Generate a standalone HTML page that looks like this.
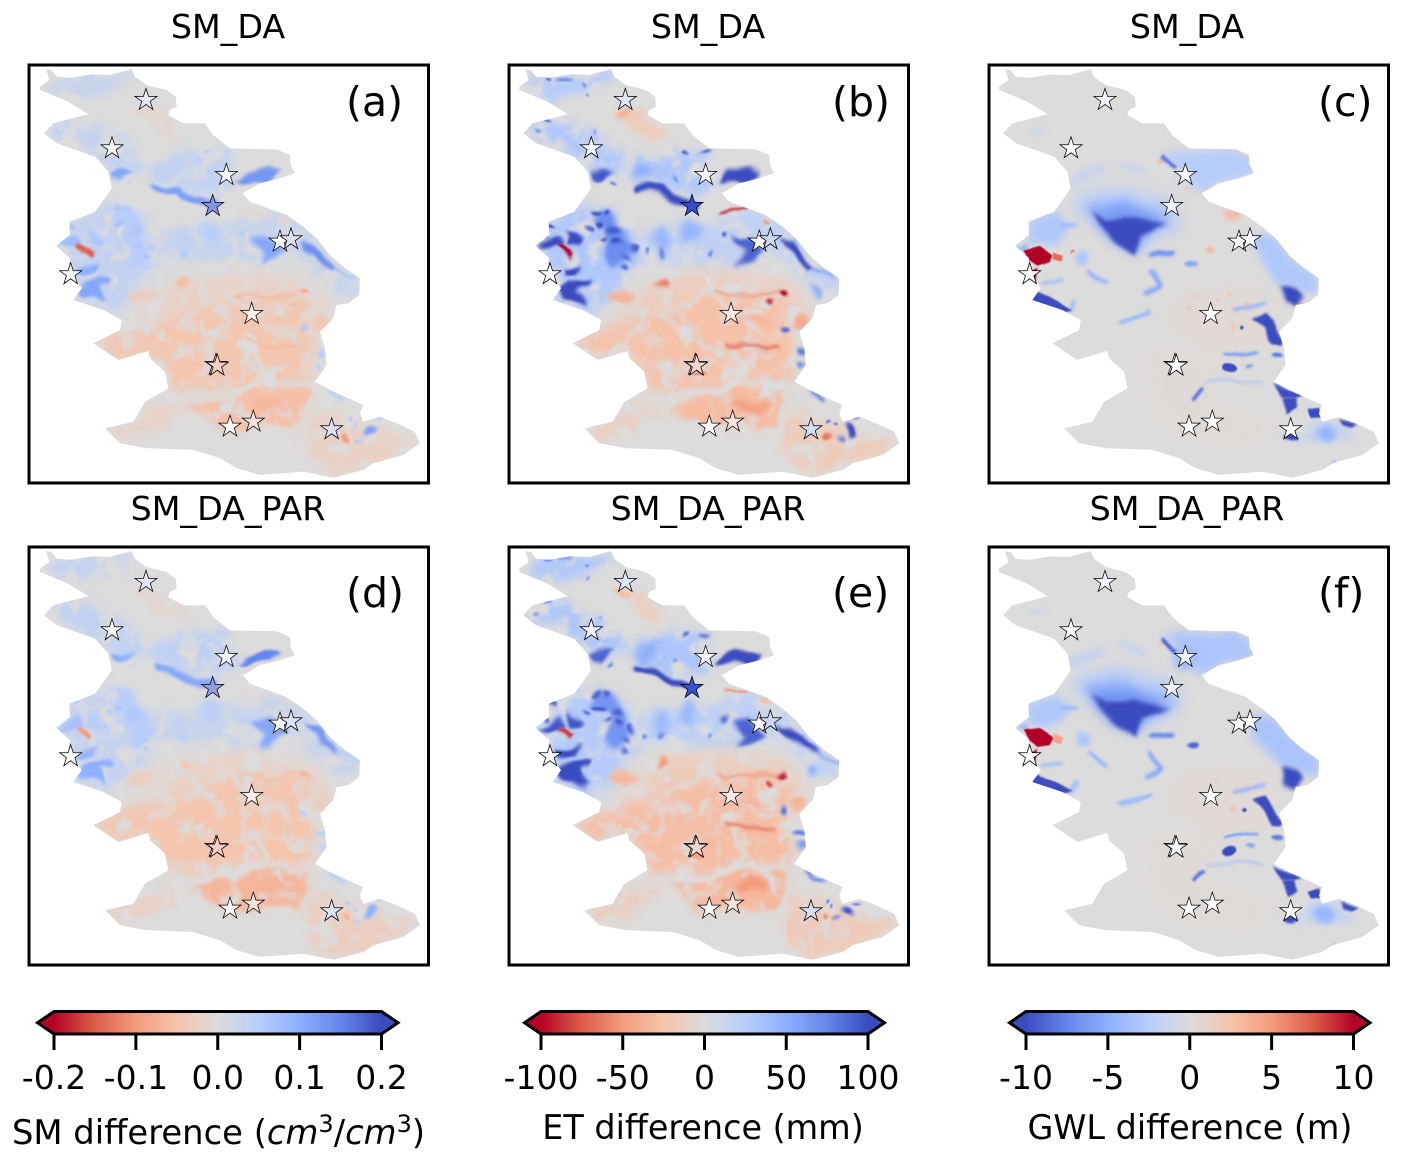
<!DOCTYPE html>
<html lang="en">
<head>
<meta charset="utf-8">
<title>Soil moisture, evapotranspiration and groundwater level differences</title>
<style>
html,body{margin:0;padding:0;background:#fff;width:1404px;height:1163px;overflow:hidden}
svg{display:block}
text{font-family:"DejaVu Sans","Liberation Sans",sans-serif;fill:#000}
.title{font-size:33.3px;text-anchor:middle}
.tag{font-size:41px}
.tick{font-size:33px;text-anchor:middle}
.cblabel{font-size:33.4px;text-anchor:middle}
</style>
</head>
<body>
<svg id="figure" xmlns="http://www.w3.org/2000/svg" width="1404" height="1163" viewBox="0 0 1404 1163">
  <defs id="defs"></defs>
  <rect width="1404" height="1163" fill="#fff"/>
  <g id="maps"></g>
  <g id="bars"></g>

  <text class="title" x="228" y="38">SM_DA</text>
  <text class="title" x="708" y="38">SM_DA</text>
  <text class="title" x="1187" y="38">SM_DA</text>
  <text class="title" x="228" y="520">SM_DA_PAR</text>
  <text class="title" x="708" y="520">SM_DA_PAR</text>
  <text class="title" x="1187" y="520">SM_DA_PAR</text>

  <text class="tag" x="346" y="116">(a)</text>
  <text class="tag" x="832" y="116">(b)</text>
  <text class="tag" x="1318" y="116">(c)</text>
  <text class="tag" x="346" y="607">(d)</text>
  <text class="tag" x="832" y="607">(e)</text>
  <text class="tag" x="1318" y="607">(f)</text>

  <text class="cblabel" x="218.5" y="1144" style="font-size:33.8px">SM difference (<tspan font-style="italic">cm</tspan><tspan style="font-size:24px" dy="-12">3</tspan><tspan dy="12">/</tspan><tspan font-style="italic">cm</tspan><tspan style="font-size:24px" dy="-12">3</tspan><tspan dy="12">)</tspan></text>
  <text class="cblabel" x="703" y="1139">ET difference (mm)</text>
  <text class="cblabel" x="1190" y="1139">GWL difference (m)</text>
</svg>

<script>
/* ---------- colour bar data ---------- */
const smTickValues = [-0.2, -0.1, 0, 0.1, 0.2];
const smTickLabels = ["-0.2", "-0.1", "0.0", "0.1", "0.2"];
const etTickValues = [-100, -50, 0, 50, 100];
const etTickLabels = ["-100", "-50", "0", "50", "100"];
const gwlTickValues = [-10, -5, 0, 5, 10];
const gwlTickLabels = ["-10", "-5", "0", "5", "10"];

/* ---------- station markers: map coordinates ---------- */
const stationEast = [378, 276, 619, 578, 780, 813, 152, 695, 588, 592, 630, 700, 935];
const stationNorth = [135, 280, 360, 453, 560, 553, 658, 777, 930, 932, 1115, 1100, 1123];

/* ---------- station values per panel ---------- */
const stationSmDa = [0.025, 0.006, 0.01, 0.11, 0.004, 0.03, 0, -0.02, -0.05, -0.05, -0.004, -0.03, 0.03];
const stationEtDa = [14, 4, 5, 92, 2, 22, 0, -12, -22, -22, -2, -15, 18];
const stationGwlDa = [-0.5, 0, 0, -0.7, 0, 0, 0, 0, 0, 0, 0, 0, 0];
const stationSmPar = [0.025, 0.006, 0.012, 0.1, 0.004, 0.03, 0, -0.02, -0.05, -0.05, -0.004, -0.03, 0.03];
const stationEtPar = [14, 4, 5, 90, 2, 22, 0, -12, -22, -22, -2, -15, 18];
const stationGwlPar = [-0.5, 0, -0.7, -0.7, 0, 0, 0, 0, 0, 0, 0, 0, 0];

/* ---------- basin outline in map coordinates ---------- */
const basinOutline = "78,42 95,45 110,65 150,68 215,58 270,60 335,42 345,65 380,90 440,105 468,125 470,155 450,165 445,180 490,205 555,205 580,240 630,280 770,283 810,300 812,330 825,355 780,370 720,385 668,415 690,440 750,462 800,480 850,515 890,550 930,600 970,635 1020,670 1018,720 985,745 950,750 940,790 900,830 915,880 920,930 885,980 930,1005 1030,1050 1020,1075 1030,1100 1080,1085 1130,1105 1185,1130 1200,1165 1150,1200 1060,1225 1030,1245 940,1268 850,1250 720,1260 650,1240 600,1210 520,1185 380,1180 300,1165 255,1120 340,1100 375,1040 445,1000 435,950 390,910 385,888 295,915 220,865 300,825 305,795 250,765 160,735 185,700 145,640 150,610 108,572 150,540 148,500 225,470 275,400 265,350 225,305 110,265 72,235 100,205 205,178 145,140 60,105 60,95 88,75";

/* ---------- moisture / ET patch geometry (map coordinates, blur, stroke) ---------- */
const moistureShapes = [
  {p:"60,95 110,65 215,58 335,42 345,75 290,95 230,125 150,135 100,115",b:6},
  {p:"75,230 110,205 200,195 270,235 360,285 380,345 300,370 230,305",b:6},
  {p:"150,500 250,440 350,480 430,560 400,650 300,770 250,770 160,730 145,640 110,572",b:7},
  {p:"430,520 700,490 800,480 880,540 720,640 560,625 440,610",b:6},
  {p:"400,320 520,290 620,280 650,380 600,420 480,400 400,370",b:6},
  {p:"720,470 800,480 890,550 970,640 1020,675 1018,720 950,720 880,640 800,560",b:6},
  {p:"330,790 480,680 640,640 880,690 940,790 870,790 500,780",b:8},
  {p:"220,865 300,825 480,780 600,720 860,720 880,860 880,980 720,1000 450,1010 435,950 390,910 385,888 295,915",b:6},
  {p:"500,1050 720,985 885,1000 840,1120 620,1130",b:4},
  {p:"850,1100 900,1060 1000,1100 1200,1165 1150,1200 1030,1245 940,1268 850,1200",b:5},
  {p:"255,1120 340,1100 380,1050 450,1030 500,1060 430,1120 300,1165",b:5},
  {p:"350,150 440,170 500,240 470,265 390,210",b:4},
  {l:"440,1040 600,1020 720,985 885,1000 835,1125 700,1130 620,1135",w:14,b:2},
  {l:"700,880 740,960 700,990 640,1020",w:16,b:2},
  {l:"500,790 620,700 660,740 800,840",w:10,b:2},
  {l:"850,1110 850,1230",w:10,b:2},
  {p:"265,350 300,345 345,345 305,378 280,372",b:1.5},
  {l:"410,398 480,405 520,432 578,450",w:24,b:1.5},
  {p:"650,380 680,355 745,335 785,345 750,378 670,385",b:1.5},
  {p:"700,550 750,545 800,585 750,620 715,640 735,590",b:2},
  {p:"840,555 880,565 920,610 955,645 940,650 880,600",b:1.5},
  {l:"950,645 1010,672",w:8,b:1.5},
  {p:"110,572 180,535 190,570 140,580",b:1.5},
  {p:"200,525 250,565 240,580 200,572",b:1.5},
  {p:"180,640 240,628 225,660 185,662",b:1.5},
  {p:"170,705 200,680 275,670 270,690 235,700 265,750 190,725",b:1.5},
  {p:"290,460 340,470 380,540 400,590 360,630 330,590 320,520 280,510",b:3},
  {c:[490,595,10,10],b:1.5},
  {c:[378,610,15,8],b:1.5},
  {c:[375,645,10,10],b:1.5},
  {c:[345,610,25,35],b:3},
  {c:[350,530,20,14],b:2},
  {c:[675,545,10,11],b:1.5},
  {c:[950,705,12,12],b:2},
  {c:[855,825,12,10],b:1.5},
  {c:[905,890,14,10],b:1.5},
  {c:[905,930,10,10],b:1.5},
  {c:[620,292,18,6],b:1.5},
  {c:[340,385,7,6],b:1},
  {c:[145,195,12,6],b:1},
  {c:[490,555,25,40],b:4},
  {c:[570,530,30,35],b:4},
  {c:[1050,1125,14,14],b:1.5},
  {l:"925,1010 970,1035",w:10,b:1.5},
  {c:[1015,1150,18,6],b:1.5},
  {c:[440,350,35,30],b:5},
  {l:"178,575 212,600",w:14,b:1},
  {l:"675,470 740,472",w:7,b:1},
  {c:[490,685,20,15],b:2},
  {c:[850,712,12,9],b:1.2},
  {c:[812,740,8,8],b:1.2},
  {l:"650,710 750,720 840,710",w:6,b:1.5},
  {l:"680,860 830,880",w:7,b:1.5},
  {c:[900,800,20,25],b:2},
  {c:[975,1140,8,12],b:1},
  {c:[365,720,40,18],b:2},
  {c:[790,498,14,7],b:1},
  {c:[370,170,30,12],b:2},
  {c:[590,960,20,6],b:1},
  {l:"720,790 800,800",w:12,b:2},
  {c:[755,1050,50,20],b:3},
  {c:[290,470,12,8],b:1.2},
  {c:[320,472,12,8],b:1.2},
  {c:[300,512,16,8],b:1.2},
  {c:[265,530,14,7],b:1.2},
  {c:[360,565,16,9],b:1.2},
  {c:[320,555,10,7],b:1.2},
  {c:[400,575,12,12],b:1.2},
  {c:[440,590,8,8],b:1},
  {c:[630,596,7,6],b:1},
  {c:[160,505,16,7],b:1.2},
  {c:[135,540,14,8],b:1.2},
  {c:[200,68,22,6],b:1.2},
  {c:[255,88,8,6],b:1},
  {c:[265,125,6,6],b:1},
  {c:[150,72,14,5],b:1},
  {c:[120,225,8,5],b:1},
  {c:[290,240,6,6],b:1},
  {c:[560,290,10,6],b:1},
  {c:[525,368,8,7],b:1},
  {c:[990,1095,6,6],b:0.8},
  {c:[1005,1110,5,5],b:0.8},
  {c:[1075,1095,12,5],b:1}
];

/* values aligned with moistureShapes */
const smDaValues = [0.03,0.035,0.036,0.028,0.038,0.028,-0.022,-0.046,-0.056,-0.025,-0.022,-0.012,0,0,0,0,0.11,0.12,0.13,0.11,0.14,0.07,0.08,0.06,0.1,0.11,0.05,0.07,0.07,0.05,0.05,0.06,0.05,0.03,0.06,0.05,0.04,0.04,0.03,0.03,0.04,0.05,0.12,0.05,0.06,0.04,-0.15,-0.025,-0.06,-0.08,-0.06,-0.07,-0.07,-0.04,-0.1,-0.03,-0.015,-0.015,-0.05,-0.05,-0.065,0.06,0.06,0.07,0.05,0.06,0.05,0.05,0.04,0.04,0.07,0.06,0.04,0.03,0.03,0.04,0.04,0.03,0.05,0.03,0.05,0.05,0.05];
const etDaValues = [28,30,30,20,30,20,-17,-27,-30,-17,-14,-18,0,0,0,0,95,100,100,90,100,60,100,100,100,100,70,90,90,90,70,95,90,55,90,80,70,95,80,80,45,45,100,80,80,50,-100,-90,-60,-100,-90,-55,-75,-40,-65,-35,-50,-35,-55,-35,-45,95,95,100,90,95,90,90,70,75,100,95,70,70,65,85,75,60,90,65,80,80,85];
const smParValues = [0.034,0.04,0.032,0.028,0.042,0.028,-0.024,-0.05,-0.066,-0.03,-0.024,-0.012,0,0,0,0,0.1,0.11,0.15,0.11,0.13,0.06,0.07,0.05,0.09,0.1,0.05,0.06,0.06,0.05,0.05,0.06,0.05,0.03,0.05,0.05,0.04,0.04,0.03,0.03,0.035,0.045,0.1,0.05,0.05,0.045,-0.1,-0.012,-0.05,-0.07,-0.05,-0.06,-0.05,-0.03,-0.07,-0.03,-0.01,-0.012,-0.04,-0.04,-0.07,0.05,0.05,0.06,0.05,0.05,0.045,0.05,0.04,0.04,0.06,0.06,0.04,0.03,0.03,0.04,0.04,0.03,0.05,0.03,0.05,0.05,0.05];
const etParValues = [30,32,28,22,32,20,-18,-29,-33,-19,-15,-16,0,0,0,0,90,100,100,90,100,55,95,95,100,100,66,85,85,85,65,90,85,50,85,80,65,90,75,75,42,42,95,80,75,52,-85,-55,-50,-95,-85,-55,-70,-35,-55,-32,-30,-30,-45,-35,-50,90,90,95,85,90,85,85,65,70,95,90,65,65,60,80,70,55,85,60,75,75,80];

/* ---------- groundwater patch geometry ---------- */
const groundwaterShapes = [
  {p:"285,430 420,395 585,440 600,505 480,580 400,530 295,475",b:8},
  {p:"320,455 440,440 580,495 500,540 470,595 375,535",b:6},
  {p:"335,470 385,495 470,488 565,512 490,540 474,600 430,575 385,535",b:2},
  {p:"150,500 230,470 280,520 220,570 150,560",b:4},
  {p:"108,572 150,560 150,582",b:1.5},
  {p:"800,540 880,540 930,600 1020,670 1018,720 960,700 900,690 840,610",b:4},
  {p:"545,290 770,283 812,310 825,355 780,370 720,385 668,415 640,390 585,320",b:4},
  {l:"550,305 590,340",w:12,b:1},
  {p:"905,690 960,700 975,720 950,760 915,745",b:2},
  {p:"815,790 860,775 885,810 910,855 905,870 880,865 855,820",b:1},
  {c:[752,940,24,14],b:0.7},
  {c:[790,818,5,6],b:0.4},
  {l:"645,1030 672,1003",w:12,b:1},
  {p:"910,1025 950,1025 955,1060 925,1080",b:1},
  {p:"990,1065 1025,1060 1030,1085 1000,1090",b:0.7},
  {p:"1085,1090 1140,1110 1120,1120 1095,1112",b:1},
  {c:[935,1152,22,10],b:1},
  {c:[1040,1135,30,24],b:3},
  {p:"158,712 175,710 215,730 280,765 250,772 158,738",b:0.7},
  {l:"330,650 380,685",w:11,b:1.5},
  {l:"515,650 545,690 500,715",w:14,b:1.5},
  {l:"430,805 510,768",w:11,b:1.5},
  {l:"190,690 250,675",w:9,b:1.5},
  {c:[640,628,18,9],b:1},
  {l:"250,512 292,516",w:10,b:1.5},
  {l:"520,598 580,595",w:15,b:1.5},
  {c:[310,610,20,22],b:2},
  {l:"765,765 855,745",w:10,b:1.5},
  {l:"735,898 835,890",w:9,b:1},
  {c:[895,903,18,8],b:1},
  {l:"290,740 275,765",w:12,b:1.5},
  {c:[815,928,12,6],b:1},
  {p:"620,700 880,700 860,880 700,900 560,800",b:7},
  {p:"500,880 720,900 700,1050 900,1100 800,1180 600,1150 500,1060",b:7},
  {p:"138,578 185,573 220,600 212,622 175,634 150,612",b:0.5},
  {p:"222,588 250,598 247,617 222,612",b:0.6},
  {p:"155,650 175,640 170,685 160,680",b:0.4},
  {c:[278,588,6,5],b:0.5},
  {c:[760,482,25,15],b:2},
  {c:[695,585,12,10],b:1},
  {c:[650,722,8,6],b:0.8},
  {c:[715,735,7,6],b:0.8},
  {c:[750,718,7,6],b:0.8},
  {c:[808,745,8,7],b:0.8},
  {c:[630,762,8,6],b:0.8},
  {c:[760,815,10,12],b:1},
  {c:[545,318,10,7],b:0.8},
  {c:[625,400,8,4],b:0.6},
  {c:[968,750,4,3],b:0.4},
  {c:[620,365,35,35],b:4},
  {p:"885,985 925,1000 975,1020 950,1027 910,1025",b:1},
  {p:"900,1130 960,1170 1000,1100 1080,1100 1130,1150 1020,1165",b:4},
  {l:"270,385 370,340",w:24,b:4},
  {l:"420,320 500,355",w:14,b:3},
  {c:[180,228,25,10],b:3},
  {l:"1035,1245 1065,1222",w:6,b:1},
  {l:"680,980 760,975 850,985",w:5,b:1.5}
];

/* values aligned with groundwaterShapes */
const gwlDaValues = [-2.5,-6,-10,-3,-4.5,-3,-2.6,-8,-10,-10,-10,-10,-8,-10,-10,-10,-10,-4.5,-10,-5,-5.5,-5,-4,-5.5,-4.5,-7,-3,-5,-6,-8,-4,-6,0.3,0.25,10,7,10,6,3,3,2,2,2,2.5,2,2,2.5,2.5,6,-0.4,-10,-1.8,-1.8,-1.8,-1.2,-5,-4];
const gwlParValues = [-2.8,-6.5,-10,-3,-4.5,-3.4,-3.2,-9,-10,-10,-10,-10,-8,-10,-10,-10,-10,-4.5,-10,-5,-5.5,-5,-4,-9,-4.5,-7.5,-3,-5,-6,-8,-4,-6,0.3,0.25,10,4.5,10,0,0.2,0,1,1,1,1,1,2,2.5,0,0,-4,-10,-2,-2,-2,-1.2,-5,-4];

/* ---------- colormap ---------- */
const coolwarmStops = ["#3b4cc0","#6485ec","#8db0fe","#b8cdf9","#dddcdc","#f5c4ac","#f49a7b","#dc5d4a","#b40426"];
function hexRgb(h){return [1,3,5].map(i=>parseInt(h.slice(i,i+2),16));}
function coolwarm(t){
  t=Math.max(0,Math.min(1,t));
  const n=coolwarmStops.length-1, i=Math.min(n-1,Math.floor(t*n)), f=t*n-i;
  const a=hexRgb(coolwarmStops[i]), b=hexRgb(coolwarmStops[i+1]);
  return "rgb("+a.map((c,k)=>Math.round(c+(b[k]-c)*f)).join(",")+")";
}
function colorFor(v,vmax,reversed){
  const t=(v+vmax)/(2*vmax);
  return coolwarm(reversed?1-t:t);
}
function stationColor(v,vmax,reversed){
  const s=Math.max(-1,Math.min(1,v/vmax))*(reversed?1:-1);
  const end=s>=0?[32,64,200]:[225,70,20], m=Math.abs(s);
  return "rgb("+end.map(c=>Math.round(255+(c-255)*m)).join(",")+")";
}

/* ---------- helpers ---------- */
const NS="http://www.w3.org/2000/svg";
function make(tag,attrs,parent){
  const el=document.createElementNS(NS,tag);
  for(const k in attrs) el.setAttribute(k,attrs[k]);
  if(parent) parent.appendChild(el);
  return el;
}
const defs=document.getElementById("defs");
const mapsRoot=document.getElementById("maps");
const barsRoot=document.getElementById("bars");
const blurIds={};
function blurFilter(b){
  const id="blur"+String(b).replace(".","_");
  if(!blurIds[id]){
    const f=make("filter",{id:id,filterUnits:"userSpaceOnUse",x:0,y:0,width:1404,height:1163},defs);
    make("feGaussianBlur",{stdDeviation:b},f);
    blurIds[id]=true;
  }
  return "url(#"+id+")";
}
function warpFilter(id,pn){
  const f=make("filter",{id:id,filterUnits:"userSpaceOnUse",x:pn.fx,y:pn.fy,width:400,height:418,"color-interpolation-filters":"sRGB"},defs);
  make("feTurbulence",{type:"fractalNoise",baseFrequency:pn.warpFreq,numOctaves:2,seed:4,result:"n"},f);
  make("feDisplacementMap",{in:"SourceGraphic",in2:"n",scale:pn.warp,xChannelSelector:"R",yChannelSelector:"G"},f);
  return "url(#"+id+")";
}
function veinFilter(id,pn){
  const f=make("filter",{id:id,filterUnits:"userSpaceOnUse",x:pn.fx,y:pn.fy,width:400,height:418,"color-interpolation-filters":"sRGB"},defs);
  make("feTurbulence",{type:"fractalNoise",baseFrequency:0.05,numOctaves:3,seed:9},f);
  make("feColorMatrix",{type:"matrix",values:"0 0 0 0 0.867  0 0 0 0 0.863  0 0 0 0 0.863  3.5 0 0 0 -1.6"},f);
  return "url(#"+id+")";
}

/* map axis functions */
function xScale(east,originX){return originX+east/3;}
function yScale(north,originY){return originY+north/3;}
function projectPoints(str,ox,oy){
  return str.split(" ").map(s=>{const q=s.split(",");return xScale(+q[0],ox).toFixed(1)+","+yScale(+q[1],oy).toFixed(1);}).join(" ");
}
function starPoints(cx,cy,r){
  const pts=[];
  for(let i=0;i<10;i++){
    const rad=i%2?r*0.382:r, ang=-Math.PI/2+i*Math.PI/5;
    pts.push((cx+rad*Math.cos(ang)).toFixed(2)+","+(cy+rad*Math.sin(ang)).toFixed(2));
  }
  return pts.join(" ");
}

const panels=[
  {id:"a",ox:20,oy:55,fx:29,fy:65,shapes:moistureShapes,values:smDaValues,stations:stationSmDa,vmax:0.2,rev:true,warp:16,warpFreq:0.035,veins:16},
  {id:"b",ox:499.3,oy:55,fx:509,fy:65,shapes:moistureShapes,values:etDaValues,stations:stationEtDa,vmax:100,rev:true,warp:16,warpFreq:0.035,veins:16},
  {id:"c",ox:979,oy:55,fx:989,fy:65,shapes:groundwaterShapes,values:gwlDaValues,stations:stationGwlDa,vmax:10,rev:false,warp:8,warpFreq:0.03,sortByStrength:true},
  {id:"d",ox:20,oy:537,fx:29,fy:547,shapes:moistureShapes,values:smParValues,stations:stationSmPar,vmax:0.2,rev:true,warp:16,warpFreq:0.035,veins:16},
  {id:"e",ox:499.3,oy:537,fx:509,fy:547,shapes:moistureShapes,values:etParValues,stations:stationEtPar,vmax:100,rev:true,warp:16,warpFreq:0.035,veins:16},
  {id:"f",ox:979,oy:537,fx:989,fy:547,shapes:groundwaterShapes,values:gwlParValues,stations:stationGwlPar,vmax:10,rev:false,warp:8,warpFreq:0.03,sortByStrength:true}
];

panels.forEach(pn=>{
  const g=make("g",{},mapsRoot);
  
  

  const clip=make("clipPath",{id:"basin-"+pn.id},defs);
  make("polygon",{points:projectPoints(basinOutline,pn.ox,pn.oy)},clip);

  const basin=make("g",{"clip-path":"url(#basin-"+pn.id+")"},g);
  
  

  const base=make("polygon",{points:projectPoints(basinOutline,pn.ox,pn.oy),fill:colorFor(0,pn.vmax,pn.rev)},basin);
  
  

  const layer=make("g",{filter:warpFilter("warp-"+pn.id,pn)},basin);
  
  

  let order=pn.shapes.map((s,i)=>i);
  if(pn.sortByStrength){
    order=order.sort((i,j)=>Math.abs(pn.values[i])-Math.abs(pn.values[j]));
  }
  order.forEach((i,pos)=>{
    const s=pn.shapes[i];
    if(pn.veins===pos){
      const vein=make("rect",{x:pn.fx,y:pn.fy,width:400,height:418,fill:"#ddd",filter:veinFilter("vein-"+pn.id,pn)},layer);
      
      
    }
    const v=pn.values[i]||0;
    const col=colorFor(v,pn.vmax,pn.rev);
    let el;
    if(s.p){
      el=make("polygon",{points:projectPoints(s.p,pn.ox,pn.oy),fill:col},layer);
    }else if(s.l){
      el=make("polyline",{points:projectPoints(s.l,pn.ox,pn.oy),fill:"none",stroke:col,"stroke-width":s.w/3,"stroke-linecap":"round","stroke-linejoin":"round"},layer);
    }else{
      el=make("ellipse",{cx:xScale(s.c[0],pn.ox),cy:yScale(s.c[1],pn.oy),rx:s.c[2]/3,ry:s.c[3]/3,fill:col},layer);
    }
    el.setAttribute("filter",blurFilter(s.b));
    
    
  });

  stationEast.forEach((e,i)=>{
    const star=make("polygon",{
      points:starPoints(xScale(e,pn.ox),yScale(stationNorth[i],pn.oy),11.6),
      fill:stationColor(pn.stations[i],pn.vmax,pn.rev),
      stroke:"#000","stroke-width":0.75,"stroke-linejoin":"miter"
    },g);
    
    
  });

  const frame=make("rect",{x:pn.fx,y:pn.fy,width:399.5,height:418,fill:"none",stroke:"#000","stroke-width":3},g);
  
  
});

/* ---------- colour bars ---------- */
const bars=[
  {id:"sm",x0:54,x1:381.5,values:smTickValues,labels:smTickLabels,vmax:0.2,rev:true},
  {id:"et",x0:541,x1:868,values:etTickValues,labels:etTickLabels,vmax:100,rev:true},
  {id:"gwl",x0:1026,x1:1353.5,values:gwlTickValues,labels:gwlTickLabels,vmax:10,rev:false}
];
const barTop=1011.5, barBottom=1034, barTip=16.5;

bars.forEach(b=>{
  const g=make("g",{},barsRoot);
  
  

  const grad=make("linearGradient",{id:"grad-"+b.id,x1:0,x2:1,y1:0,y2:0},defs);
  for(let i=0;i<=32;i++){
    make("stop",{offset:i/32,"stop-color":coolwarm(b.rev?1-i/32:i/32)},grad);
  }
  const mid=(barTop+barBottom)/2;
  const leftTip=make("polygon",{points:[b.x0,barTop,b.x0-barTip,mid,b.x0,barBottom].join(" "),fill:colorFor(-b.vmax,b.vmax,b.rev)},g);
  
  
  const rightTip=make("polygon",{points:[b.x1,barTop,b.x1+barTip,mid,b.x1,barBottom].join(" "),fill:colorFor(b.vmax,b.vmax,b.rev)},g);
  
  
  const body=make("rect",{x:b.x0,y:barTop,width:b.x1-b.x0,height:barBottom-barTop,fill:"url(#grad-"+b.id+")"},g);
  
  
  const outline=make("polygon",{points:[b.x0,barTop,b.x1,barTop,b.x1+barTip,mid,b.x1,barBottom,b.x0,barBottom,b.x0-barTip,mid].join(" "),fill:"none",stroke:"#000","stroke-width":3,"stroke-linejoin":"miter"},g);
  
  

  const scale=v=>b.x0+(v+b.vmax)/(2*b.vmax)*(b.x1-b.x0);
  b.values.forEach((v,i)=>{
    const x=scale(v);
    const tick=make("line",{x1:x,x2:x,y1:barBottom,y2:1050,stroke:"#000","stroke-width":3},g);
    
    
    const label=make("text",{x:x,y:1089,class:"tick"},g);
    label.textContent=b.labels[i];
    
    
  });
});
</script>
</body>
</html>
